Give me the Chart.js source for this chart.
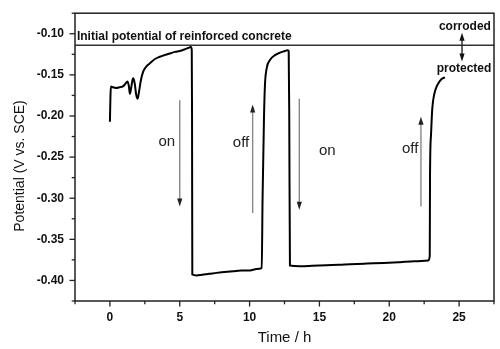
<!DOCTYPE html>
<html><head><meta charset="utf-8">
<script src="https://cdn.jsdelivr.net/npm/chart.js@4"></script>
<style>html,body{margin:0;padding:0;background:#fff}canvas{display:block}</style>
</head><body>
<canvas id="c" width="500" height="349"></canvas>
<script>
// ---- data ----
const timeH = [0.00,0.04,0.07,0.2,0.45,0.7,0.93,1.1,1.26,1.36,1.43,1.52,1.62,1.68,1.78,1.88,1.98,2.08,2.2,2.38,2.6,2.86,3.2,3.57,3.9,4.29,4.65,5.0,5.35,5.71,5.8,5.86,5.88,5.9,6.21,6.6,7.1,7.64,8.2,8.83,9.4,10.03,10.5,10.87,10.93,11.03,11.1,11.22,11.46,11.82,12.18,12.54,12.7,12.8,12.84,12.89,13.6,14.5,15.5,16.4,17.19,18.4,19.6,20.77,21.8,22.8,22.9,22.92,22.99,23.08,23.23,23.44,23.75,23.99];
const potentialV = [-0.207,-0.175,-0.164,-0.165,-0.166,-0.165,-0.164,-0.161,-0.158,-0.164,-0.173,-0.166,-0.156,-0.154,-0.161,-0.174,-0.179,-0.171,-0.158,-0.146,-0.140,-0.136,-0.131,-0.128,-0.126,-0.124,-0.122,-0.121,-0.119,-0.1165,-0.116,-0.120,-0.200,-0.3928,-0.394,-0.393,-0.392,-0.3908,-0.3898,-0.3888,-0.388,-0.3878,-0.386,-0.385,-0.30,-0.203,-0.1625,-0.1424,-0.132,-0.126,-0.123,-0.121,-0.120,-0.121,-0.200,-0.3818,-0.3827,-0.3822,-0.3815,-0.381,-0.3803,-0.3795,-0.3788,-0.3778,-0.3768,-0.3758,-0.370,-0.271,-0.223,-0.191,-0.173,-0.1625,-0.155,-0.153];
const initialPotential = -0.114;
const initialLabel = 'Initial potential of reinforced concrete';
const initialLabelPos = [-2.36, -0.1034];

const xRange = [-2.5, 27.5];
const yRange = [-0.425, -0.075];
const xStep = 2.5, yStep = 0.025;

const arrowTime = [5.0, 10.22, 13.56, 22.27];
const arrowFrom = [-0.181, -0.318, -0.179, -0.310];
const arrowTo   = [-0.310, -0.186, -0.314, -0.201];
const switchLabels = ['on', 'off', 'on', 'off'];
const switchLabelTime = [4.07, 9.39, 15.56, 21.5];
const switchLabelV = [-0.231, -0.233, -0.2425, -0.240];

const stateArrowTime = 25.21;
const stateArrowEnds = [-0.0988, -0.1337];
const stateLabels = ['corroded', 'protected'];
const stateLabelTime = [25.42, 25.35];
const stateLabelV = [-0.091, -0.1428];

const xTitle = 'Time / h';
const yTitle = 'Potential (V vs. SCE)';

// ---- helpers ----
const isMajorX = v => Math.round(v * 10) % 50 === 0;
const isMajorY = v => Math.round(v * 1000) % 50 === 0;
const FONT = "'Liberation Sans', Arial, sans-serif";

function arrow(ctx, x, y0, y1, shaftColor, headColor) {
  const dir = y1 > y0 ? 1 : -1;
  ctx.strokeStyle = shaftColor; ctx.lineWidth = 1.4;
  ctx.beginPath(); ctx.moveTo(x, y0); ctx.lineTo(x, y1 - dir * 5); ctx.stroke();
  ctx.fillStyle = headColor;
  ctx.beginPath();
  ctx.moveTo(x, y1);
  ctx.lineTo(x - 2.6, y1 - dir * 8);
  ctx.lineTo(x + 2.6, y1 - dir * 8);
  ctx.closePath(); ctx.fill();
}

const deco = {
  id: 'deco',
  afterDraw(chart) {
    const {ctx, chartArea: a, scales: {x, y}} = chart;
    ctx.save();
    // frame
    ctx.strokeStyle = '#222'; ctx.lineWidth = 1.5;
    ctx.strokeRect(a.left, a.top, a.right - a.left, a.bottom - a.top);
    // tick marks (outward, minor shorter)
    ctx.lineWidth = 1.3;
    x.ticks.forEach(t => {
      const px = x.getPixelForValue(t.value);
      ctx.beginPath(); ctx.moveTo(px, a.bottom); ctx.lineTo(px, a.bottom + (isMajorX(t.value) ? 5.5 : 3.3)); ctx.stroke();
    });
    y.ticks.forEach(t => {
      const py = y.getPixelForValue(t.value);
      ctx.beginPath(); ctx.moveTo(a.left, py); ctx.lineTo(a.left - (isMajorY(t.value) ? 5.5 : 3.3), py); ctx.stroke();
    });
    // initial potential label
    ctx.fillStyle = '#111';
    ctx.font = 'bold 12px ' + FONT;
    ctx.textAlign = 'left'; ctx.textBaseline = 'middle';
    ctx.fillText(initialLabel, x.getPixelForValue(initialLabelPos[0]), y.getPixelForValue(initialLabelPos[1]));
    // corroded / protected
    ctx.textAlign = 'center';
    stateLabels.forEach((s, i) => ctx.fillText(s, x.getPixelForValue(stateLabelTime[i]), y.getPixelForValue(stateLabelV[i])));
    const sx = x.getPixelForValue(stateArrowTime), sy = y.getPixelForValue(initialPotential);
    stateArrowEnds.forEach(v => arrow(ctx, sx, sy, y.getPixelForValue(v), '#222', '#111'));
    // on/off arrows
    arrowTime.forEach((t, i) => arrow(ctx, x.getPixelForValue(t), y.getPixelForValue(arrowFrom[i]), y.getPixelForValue(arrowTo[i]), '#888', '#222'));
    ctx.font = '15px ' + FONT;
    ctx.fillStyle = '#222';
    switchLabels.forEach((s, i) => ctx.fillText(s, x.getPixelForValue(switchLabelTime[i]), y.getPixelForValue(switchLabelV[i])));
    // axis titles
    ctx.fillStyle = '#111';
    ctx.font = '15px ' + FONT;
    ctx.fillText(xTitle, (a.left + a.right) / 2, 338);
    ctx.save();
    ctx.translate(20, 166); ctx.rotate(-Math.PI / 2);
    ctx.font = '14px ' + FONT;
    ctx.fillText(yTitle, 0, 0);
    ctx.restore();
    ctx.restore();
  }
};

const curve = timeH.map((t, i) => ({x: t, y: potentialV[i]}));
const refLine = xRange.map(t => ({x: t, y: initialPotential}));

new Chart(document.getElementById('c'), {
  type: 'line',
  data: {
    datasets: [
      {data: refLine, borderColor: '#333', borderWidth: 1.3, pointRadius: 0, tension: 0},
      {data: curve, borderColor: '#000', borderWidth: 2, pointRadius: 0, cubicInterpolationMode: 'monotone'}
    ]
  },
  options: {
    responsive: false,
    animation: false,
    events: [],
    layout: {padding: {left: 0, top: 11, right: 6, bottom: 0}},
    plugins: {legend: {display: false}, tooltip: {enabled: false}},
    scales: {
      x: {
        type: 'linear', min: xRange[0], max: xRange[1],
        afterFit: s => { s.height = 48; },
        border: {display: false},
        grid: {drawOnChartArea: false, drawTicks: true, tickLength: 5, color: 'rgba(0,0,0,0)'},
        ticks: {
          stepSize: xStep, autoSkip: false, maxRotation: 0, padding: 4,
          color: '#111', font: {family: FONT, size: 12, weight: 'bold'},
          callback: v => isMajorX(v) ? String(Math.round(v)) : ''
        }
      },
      y: {
        type: 'linear', min: yRange[0], max: yRange[1],
        afterFit: s => { s.width = 75; },
        border: {display: false},
        grid: {drawOnChartArea: false, drawTicks: true, tickLength: 5, color: 'rgba(0,0,0,0)'},
        ticks: {
          stepSize: yStep, autoSkip: false, padding: 6,
          color: '#111', font: {family: FONT, size: 12, weight: 'bold'},
          callback: v => isMajorY(v) ? v.toFixed(2) : ''
        }
      }
    }
  },
  plugins: [deco]
});
</script>
</body></html>
